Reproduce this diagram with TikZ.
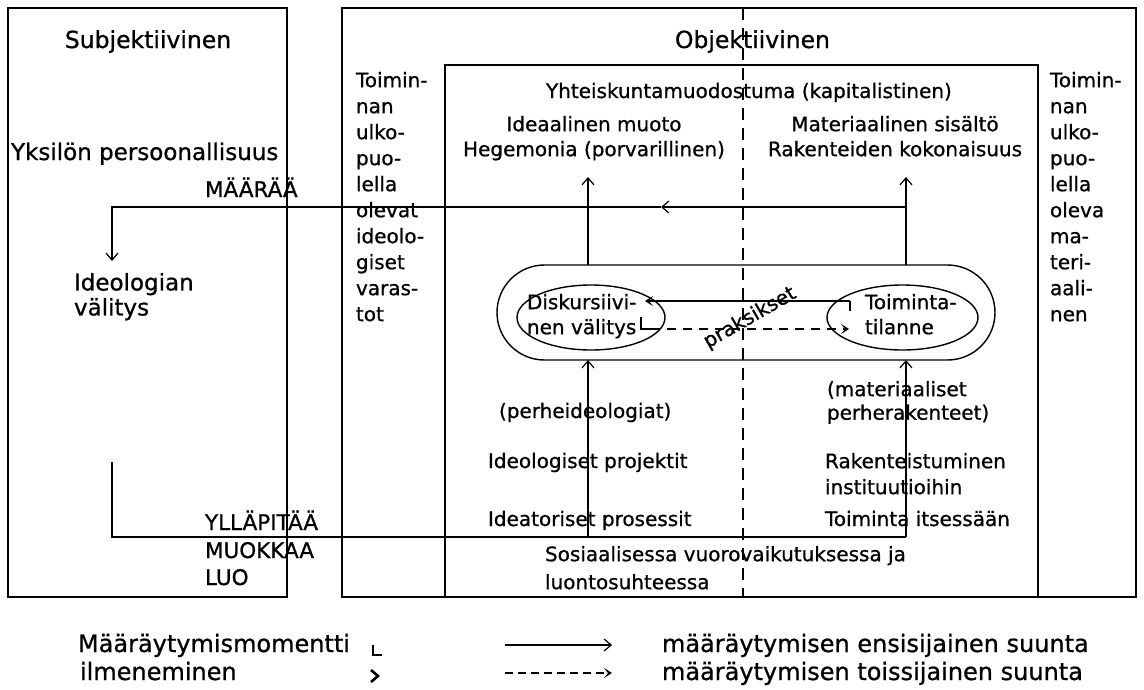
\documentclass[tikz,border=0pt]{standalone}
\usepackage{fontspec}
\setmainfont{DejaVu Sans}[FakeBold=0.8]
\usetikzlibrary{arrows.meta,shapes.geometric,shapes.misc}
\begin{document}
\begin{tikzpicture}[x=1pt,y=-1pt,
  every node/.style={inner sep=0pt, outer sep=0pt},
  body/.style={font=\fontsize{20}{26}\selectfont, align=left},
  title/.style={font=\fontsize{23.5}{28}\selectfont},
  capstxt/.style={font=\fontsize{21.5}{28}\selectfont},
  legtxt/.style={font=\fontsize{24}{28}\selectfont},
  frame/.style={line width=1.5pt},
  conn/.style={line width=1.4pt},
  tip/.style={-{Straight Barb[length=7pt,width=12pt,line width=1.2pt]}},
  chev/.style={-{Stealth[length=8pt,width=10pt,inset=4pt]}},
  tickmark/.style={line width=2.6pt},
]
\useasboundingbox (0,0) rectangle (1144,689);

% frames
\draw[frame] (8,8) rectangle (287,597);
\draw[frame] (342,8) rectangle (1136,597);
\draw[frame] (445,597) -- (445,65) -- (1038,65) -- (1038,597);
\coordinate (dtop) at (743,8);
\coordinate (dbot) at (743,597);
\draw[conn, dash pattern=on 12pt off 8pt] (dtop) -- (dbot);

% titles and texts
\node[title, anchor=base] (subj) at (148,48) {Subjektiivinen};
\node[title, anchor=base west] (obj) at (675,48) {Objektiivinen};
\node[body, font=\fontsize{23}{26}\selectfont, anchor=base west] (yks) at (11,160) {Yksilön persoonallisuus};
\node[capstxt, anchor=base west] (maar) at (205,197) {MÄÄRÄÄ};
\node[body, font=\fontsize{23}{25}\selectfont, anchor=north west] (ideol) at (74,273) {Ideologian\\välitys};
\node[capstxt, anchor=base west] (yll1) at (205,530) {YLLÄPITÄÄ};
\node[capstxt, anchor=base west] (yll2) at (205,558) {MUOKKAA};
\node[capstxt, anchor=base west] (yll3) at (205,585) {LUO};

\node[body, anchor=north west] (lcol) at (356,72) {Toimin-\\nan\\ulko-\\puo-\\lella\\olevat\\ideolo-\\giset\\varas-\\tot};
\node[body, anchor=north west] (rcol) at (1050,72) {Toimin-\\nan\\ulko-\\puo-\\lella\\oleva\\ma-\\teri-\\aali-\\nen};

\node[body, anchor=base west] (yht) at (546,98) {Yhteiskuntamuodostuma (kapitalistinen)};
\node[body, align=center, font=\fontsize{20}{25}\selectfont, anchor=north] (ideaal) at (594,116) {Ideaalinen muoto\\Hegemonia (porvarillinen)};
\node[body, align=center, font=\fontsize{20}{25}\selectfont, anchor=north] (mater) at (895,116) {Materiaalinen sisältö\\Rakenteiden kokonaisuus};

% pill and ellipses
\node[draw, conn, rounded rectangle, minimum width=498pt, minimum height=95pt] (pill) at (746,312.5) {};
\node[draw, conn, ellipse, minimum width=148pt, minimum height=65pt] (disk) at (591,317.5) {};
\node[draw, conn, ellipse, minimum width=151pt, minimum height=65pt] (toim) at (902.5,317.5) {};
\node[body, font=\fontsize{20}{25}\selectfont, anchor=north west] (disktxt) at (527,294) {Diskursiivi-\\nen välitys};
\node[body, font=\fontsize{20}{25}\selectfont, anchor=north west] (toimtxt) at (865,294) {Toiminta-\\tilanne};
\node[body, rotate=30] (praks) at (750,318) {praksikset};

% praksikset connectors
\coordinate (s0) at (850,311);
\coordinate (s1) at (850,301);
\coordinate (s2) at (645,301);
\draw[tickmark] (s0) -- (s1);
\draw[conn, chev] (s1) -- (s2);
\coordinate (d0) at (641,317);
\coordinate (d1) at (641,329);
\coordinate (d2) at (651,329);
\coordinate (d3) at (849,329);
\draw[tickmark] (d0) -- (d1) -- (d2);
\draw[conn, dash pattern=on 9pt off 7pt, chev] (d2) -- (d3);

% vertical connectors
\coordinate (xl) at (588,177);
\coordinate (xr) at (906,177);
\draw[conn, tip] (pill.north -| xl) -- (xl);
\draw[conn, tip] (pill.north -| xr) -- (xr);

\coordinate (h1) at (906,207);
\coordinate (hm) at (661,207);
\coordinate (h2) at (112,207);
\coordinate (h3) at (112,261);
\draw[conn, tip] (h1) -- (hm);
\draw[conn, tip] (hm) -- (h2) -- (h3);

\coordinate (b0) at (112,462);
\coordinate (b1) at (112,537);
\coordinate (b2) at (906,537);
\coordinate (b3) at (588,537);
\draw[conn] (b0) -- (b1) -- (b2);
\draw[conn, tip] (b3) -- (pill.south -| b3);
\draw[conn, tip] (b2) -- (pill.south -| b2);

% lower texts
\node[body, anchor=base west] (perhe) at (499,418) {(perheideologiat)};
\node[body, anchor=base west] (ideproj) at (488,468) {Ideologiset projektit};
\node[body, anchor=base west] (idepros) at (488,526) {Ideatoriset prosessit};
\node[body, font=\fontsize{20}{28}\selectfont, anchor=north west] (sos) at (545,546) {Sosiaalisessa vuorovaikutuksessa ja\\luontosuhteessa};
\node[body, font=\fontsize{20}{23.5}\selectfont, anchor=north west] (matper) at (827,381) {(materiaaliset\\perherakenteet)};
\node[body, font=\fontsize{20}{26}\selectfont, anchor=north west] (raken) at (825,453) {Rakenteistuminen\\instituutioihin};
\node[body, anchor=base west] (toimits) at (825,526) {Toiminta itsessään};

% legend
\node[legtxt, anchor=base west] (lg1) at (78,652) {Määräytymismomentti};
\node[legtxt, anchor=base west] (lg2) at (80,680) {ilmeneminen};
\coordinate (L0) at (373,645);
\coordinate (L1) at (373,655);
\coordinate (L2) at (382,655);
\draw[tickmark] (L0) -- (L1) -- (L2);
\coordinate (c0) at (371,670);
\coordinate (c1) at (378,676);
\coordinate (c2) at (371,682);
\draw[tickmark] (c0) -- (c1) -- (c2);
\coordinate (la0) at (505,645);
\coordinate (la1) at (612,645);
\coordinate (lb0) at (505,673);
\coordinate (lb1) at (612,673);
\draw[conn, tip] (la0) -- (la1);
\draw[conn, dash pattern=on 8pt off 5pt, chev] (lb0) -- (lb1);
\node[legtxt, anchor=base west] (lg3) at (662,652) {määräytymisen ensisijainen suunta};
\node[legtxt, anchor=base west] (lg4) at (662,680) {määräytymisen toissijainen suunta};
\end{tikzpicture}
\end{document}
